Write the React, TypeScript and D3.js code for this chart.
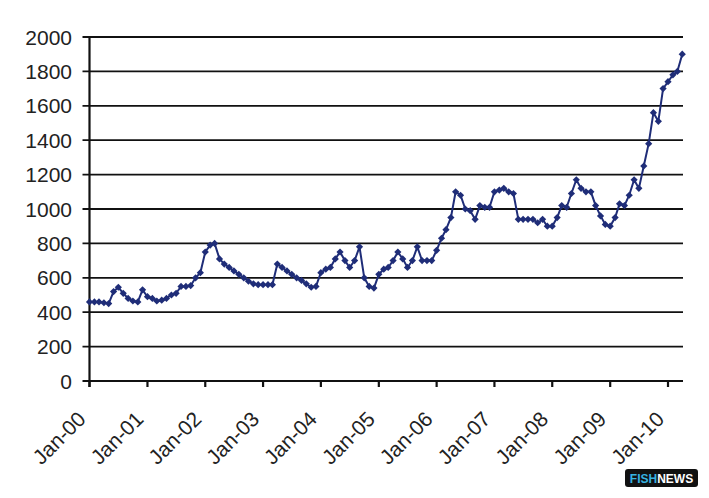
import React from "react";
import * as d3 from "d3";

// monthly price, Jan 2000 .. Apr 2010
const startYear = 2000;
const prices: number[] = [
  // 2000
  460, 460, 460, 455, 450, 520, 545, 510, 480, 465, 460, 530,
  // 2001
  490, 480, 465, 470, 480, 500, 510, 550, 550, 555, 600, 630,
  // 2002
  750, 790, 800, 710, 680, 660, 640, 620, 600, 580, 565, 560,
  // 2003
  560, 560, 560, 680, 660, 640, 620, 600, 585, 565, 545, 550,
  // 2004
  630, 650, 660, 710, 750, 700, 660, 700, 780, 600, 550, 540,
  // 2005
  620, 650, 660, 700, 750, 710, 660, 700, 780, 700, 700, 700,
  // 2006
  760, 830, 880, 950, 1100, 1080, 1000, 990, 940, 1020, 1010, 1010,
  // 2007
  1100, 1110, 1120, 1100, 1090, 940, 940, 940, 940, 920, 940, 900,
  // 2008
  900, 950, 1020, 1010, 1090, 1170, 1120, 1100, 1100, 1020, 960, 910,
  // 2009
  900, 950, 1030, 1020, 1080, 1170, 1120, 1250, 1380, 1560, 1510, 1700,
  // 2010
  1740, 1780, 1800, 1900,
];

const yTicks = [0, 200, 400, 600, 800, 1000, 1200, 1400, 1600, 1800, 2000];
const xTickYears = [2000, 2001, 2002, 2003, 2004, 2005, 2006, 2007, 2008, 2009, 2010];

const W = 709;
const H = 498;
const left = 89.5;
const right = 683;
const top = 37;
const bottom = 381;

const lineColor = "#1f2d78";

export default function App() {
  const x = d3
    .scaleTime()
    .domain([new Date(2000, 0, 1), new Date(2010, 0, 1)])
    .range([left, 668]);
  const y = d3.scaleLinear().domain([0, 2000]).range([bottom, top]);

  const points = prices.map((v, i) => ({ date: new Date(startYear, i, 1), v }));

  const line = d3
    .line<{ date: Date; v: number }>()
    .x((d) => x(d.date))
    .y((d) => y(d.v));

  const marker = d3.symbol().type(d3.symbolSquare).size(26)()!;

  return (
    <svg
      width={W}
      height={H}
      style={{ position: "absolute", left: 0, top: 0, background: "#fff" }}
      fontFamily="Arial, 'Liberation Sans', sans-serif"
    >
      {/* grid */}
      {yTicks.map((t) => (
        <g key={t}>
          <line x1={left - 7} x2={right} y1={y(t)} y2={y(t)} stroke="#111" strokeWidth={t === 0 ? 2.2 : 1.8} />
          <text x={72} y={y(t)} dy="0.36em" textAnchor="end" fontSize={21} fill="#222">
            {t}
          </text>
        </g>
      ))}
      <line x1={left} x2={left} y1={top} y2={bottom + 6} stroke="#111" strokeWidth={2.2} />
      {xTickYears.map((yr) => {
        const px = x(new Date(yr, 0, 1));
        return (
          <g key={yr}>
            <line x1={px} x2={px} y1={bottom} y2={bottom + 6} stroke="#111" strokeWidth={2.2} />
            <text
              transform={`translate(${px - 13},${bottom + 29}) rotate(-45)`}
              textAnchor="end"
              dy="0.7em"
              fontSize={21}
              fill="#222"
            >
              {`Jan-${String(yr % 100).padStart(2, "0")}`}
            </text>
          </g>
        );
      })}

      {/* series */}
      <path d={line(points)!} fill="none" stroke={lineColor} strokeWidth={2} />
      {points.map((p, i) => (
        <path
          key={i}
          d={marker}
          transform={`translate(${x(p.date)},${y(p.v)}) rotate(45)`}
          fill={lineColor}
        />
      ))}

      {/* logo */}
      <rect x={625} y={469} width={73} height={18} rx={3} fill="#111" />
      <text x={661.5} y={482.5} textAnchor="middle" fontSize={12} fontWeight="bold">
        <tspan fill="#36b2e0">FISH</tspan>
        <tspan fill="#fff">NEWS</tspan>
      </text>
    </svg>
  );
}
